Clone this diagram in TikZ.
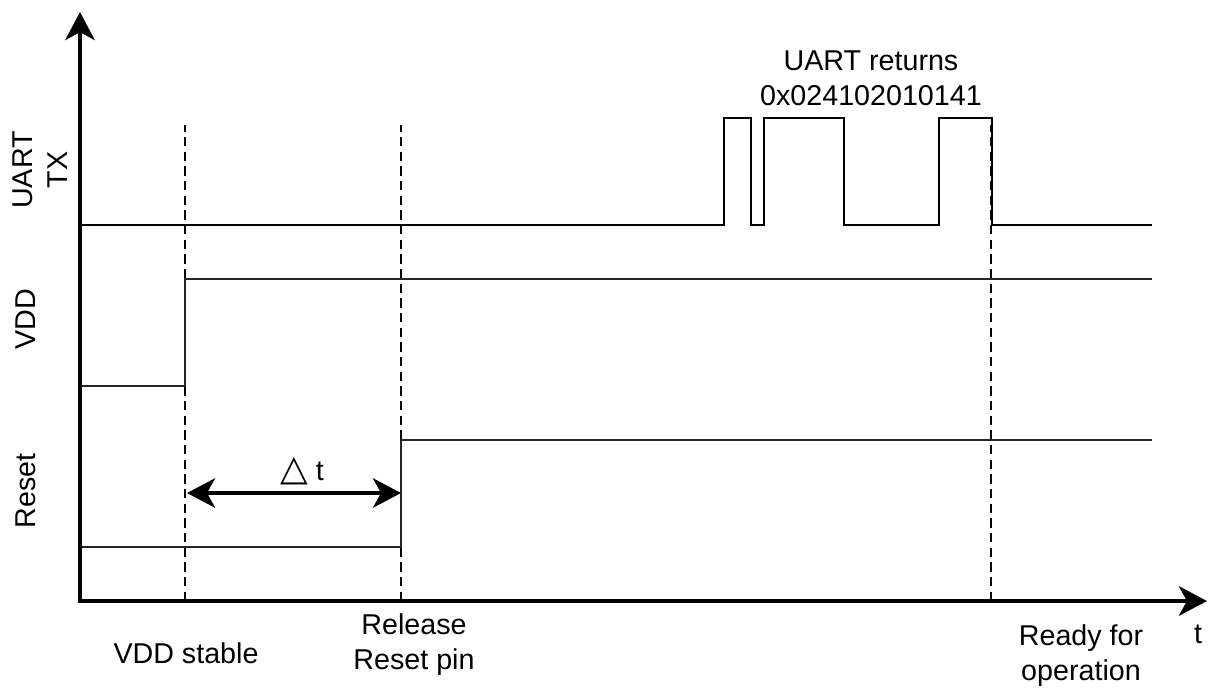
\documentclass[tikz,border=0pt]{standalone}
\usepackage{fontspec}
\setmainfont{Liberation Sans}
\newfontfamily\symfont{DejaVu Sans}
\usetikzlibrary{arrows.meta}

\begin{document}
\begin{tikzpicture}[x=0.75pt, y=-0.75pt,
      font=\fontsize{21.5}{26}\selectfont,
      axis/.style={line width=3.6pt,
                   {Stealth[length=21pt,width=22pt,inset=6pt]}-{Stealth[length=21pt,width=22pt,inset=6pt]}},
      sig/.style={line width=1.1pt, black!85},
      marker/.style={line width=1.8pt, dash pattern=on 7pt off 4pt},
      dt/.style={line width=3.2pt,
                 {Stealth[length=21pt,width=22pt,inset=6pt]}-{Stealth[length=21pt,width=22pt,inset=6pt]}},
      lbl/.style={align=center, anchor=base},
      side/.style={align=center, anchor=base, rotate=90}]
      \useasboundingbox (0,0) rectangle (1213,687);

      % axes
      \coordinate (origin) at (80,601);
      \coordinate (ytop)   at (80,12);
      \coordinate (xend)   at (1207,601);
      \draw[axis] (ytop) -- (origin) -- (xend);

      % event markers
      \coordinate (vdds) at (185,601);
      \coordinate (rel)  at (401,601);
      \coordinate (rdy)  at (991,601);
      \foreach \ev in {vdds, rel, rdy}
        \draw[marker] (\ev) -- ++(0,-476);

      % signals
      \draw[sig, black] (82,225) -| (724,118) -| (751,225) -| (764,118) -| (844,225)
                        -| (939,118) -| (992,225) -- (1152,225);
      \draw[sig] (82,386) -| (185,279) -- (1152,279);
      \draw[sig] (82,547) -| (401,440) -- (1152,440);

      % delay between VDD stable and reset release
      \coordinate (dtl) at (187,493);
      \coordinate (dtr) at (401,493);
      \draw[dt] (dtl) -- (dtr);
      \node[lbl] (dtlbl) at (302,480) {{\symfont\fontsize{27}{27}\selectfont △} t};

      % labels
      \node[side] (uartlbl)  at (67,170)  {UART\\TX};
      \node[side] (vddlbl)   at (35,319)  {VDD};
      \node[side] (resetlbl) at (35,491)  {Reset};
      \node[lbl] (uartret)   at (871,105) {UART returns\\0x024102010141};
      \node[lbl] (vddslbl)   at (186,663) {VDD stable};
      \node[lbl] (rellbl)    at (414,669) {Release\\Reset pin};
      \node[lbl] (rdylbl)    at (1081,680) {Ready for\\operation};
      \node[lbl] (tlbl)      at (1198,643) {t};
    \end{tikzpicture}
\end{document}
